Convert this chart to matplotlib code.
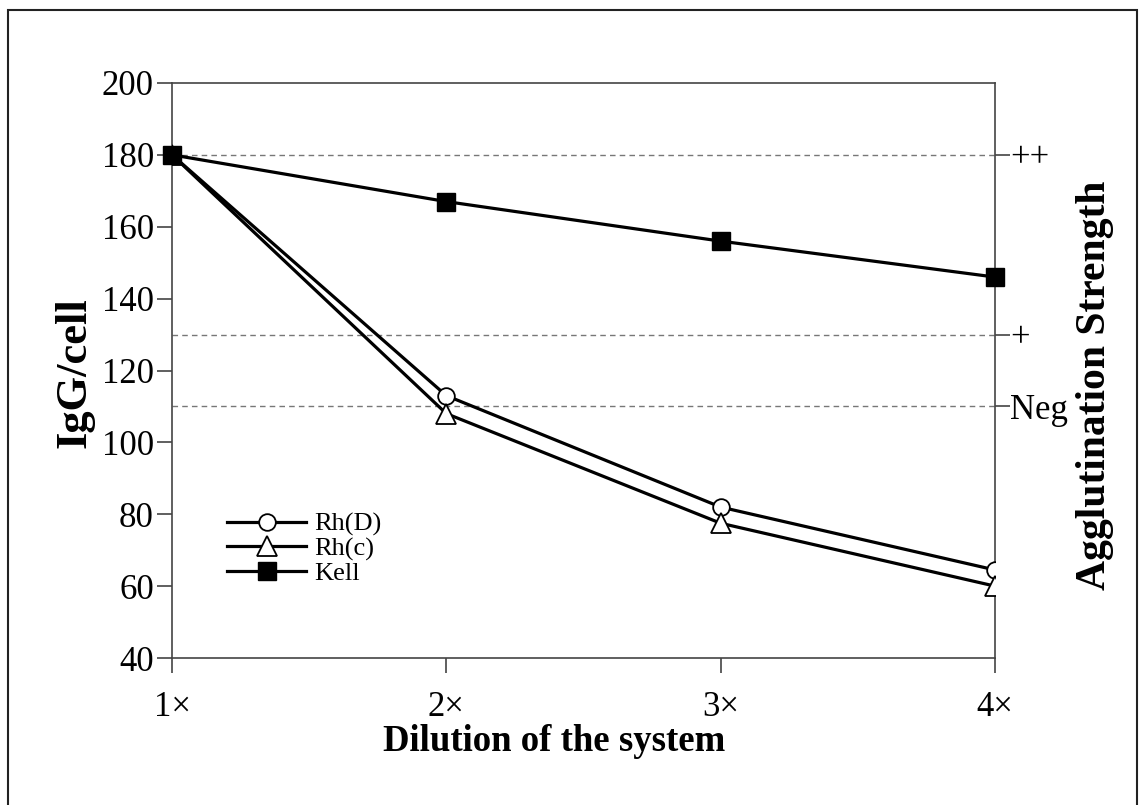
import matplotlib
matplotlib.use("Agg")
import matplotlib.pyplot as plt
from matplotlib.patches import Rectangle

plt.rcParams['font.family'] = ['Liberation Serif', 'DejaVu Serif']

# data
dilution = [1, 2, 3, 4]
xlabels = ['1\u00d7', '2\u00d7', '3\u00d7', '4\u00d7']
rh_d = [180, 113, 82, 64.5]
rh_c = [180, 108, 77.5, 60]
kell = [180, 167, 156, 146]
strength_vals = [180, 130, 110]
strength_labels = ['++', '+', 'Neg']

fig = plt.figure(figsize=(11.4, 8.05), dpi=100)
ax = fig.add_axes([0.1509, 0.1826, 0.8728 - 0.1509, 0.8969 - 0.1826])

# dashed reference lines for agglutination levels
for v in strength_vals:
    ax.axhline(v, color='#777777', lw=1.0, ls=(0, (4, 3)), zorder=1)

ax.plot(dilution, rh_d, color='black', lw=2.3, marker='o', ms=12,
        mfc='white', mec='black', mew=1.3, label='Rh(D)', zorder=3)
ax.plot(dilution, rh_c, color='black', lw=2.3, marker='^', ms=14,
        mfc='white', mec='black', mew=1.3, label='Rh(c)', zorder=3)
ax.plot(dilution, kell, color='black', lw=2.3, marker='s', ms=13,
        mfc='black', mec='black', label='Kell', zorder=4, clip_on=False)

ax.set_xlim(1, 4)
ax.set_ylim(40, 200)
ax.set_xticks(dilution)
ax.set_xticklabels(xlabels)
ax.set_yticks(range(40, 201, 20))

for sp in ax.spines.values():
    sp.set_color('#444444')
    sp.set_linewidth(1.2)

ax.tick_params(axis='y', direction='out', length=11, width=1.2, pad=2,
               labelsize=25, color='#444444')
ax.tick_params(axis='x', direction='out', length=11, width=1.2, pad=13,
               labelsize=25, color='#444444')

ax2 = ax.twinx()
ax2.set_ylim(40, 200)
ax2.set_yticks(strength_vals)
ax2.set_yticklabels(strength_labels)
ax2.tick_params(axis='y', direction='out', length=11, width=1.2, pad=0,
                labelsize=25, color='#444444')
for sp in ax2.spines.values():
    sp.set_visible(False)

leg = ax.legend(loc='upper left', bbox_to_anchor=(0.0668, 0.253),
                frameon=False, fontsize=19, handlelength=3.0,
                handletextpad=0.3, labelspacing=0.03, borderpad=0,
                borderaxespad=0)

fig.text(554 / 1140, 1 - 751 / 805, 'Dilution of the system',
         ha='center', va='baseline', fontsize=26.5, fontweight='bold')
fig.text(75 / 1140, 1 - 373 / 805, 'IgG/cell', ha='center', va='center',
         rotation=90, fontsize=32, fontweight='bold')
fig.text(1095 / 1140, 1 - 385 / 805, 'Agglutination Strength',
         ha='center', va='center', rotation=90, fontsize=30,
         fontweight='bold')

# outer frame around the figure
fig.patches.append(Rectangle((8 / 1140, -0.02), 1129 / 1140, 1.02 - 10 / 805,
                             transform=fig.transFigure, fill=False,
                             edgecolor='#222222', lw=1.5))

fig.savefig('out.png', dpi=100)
